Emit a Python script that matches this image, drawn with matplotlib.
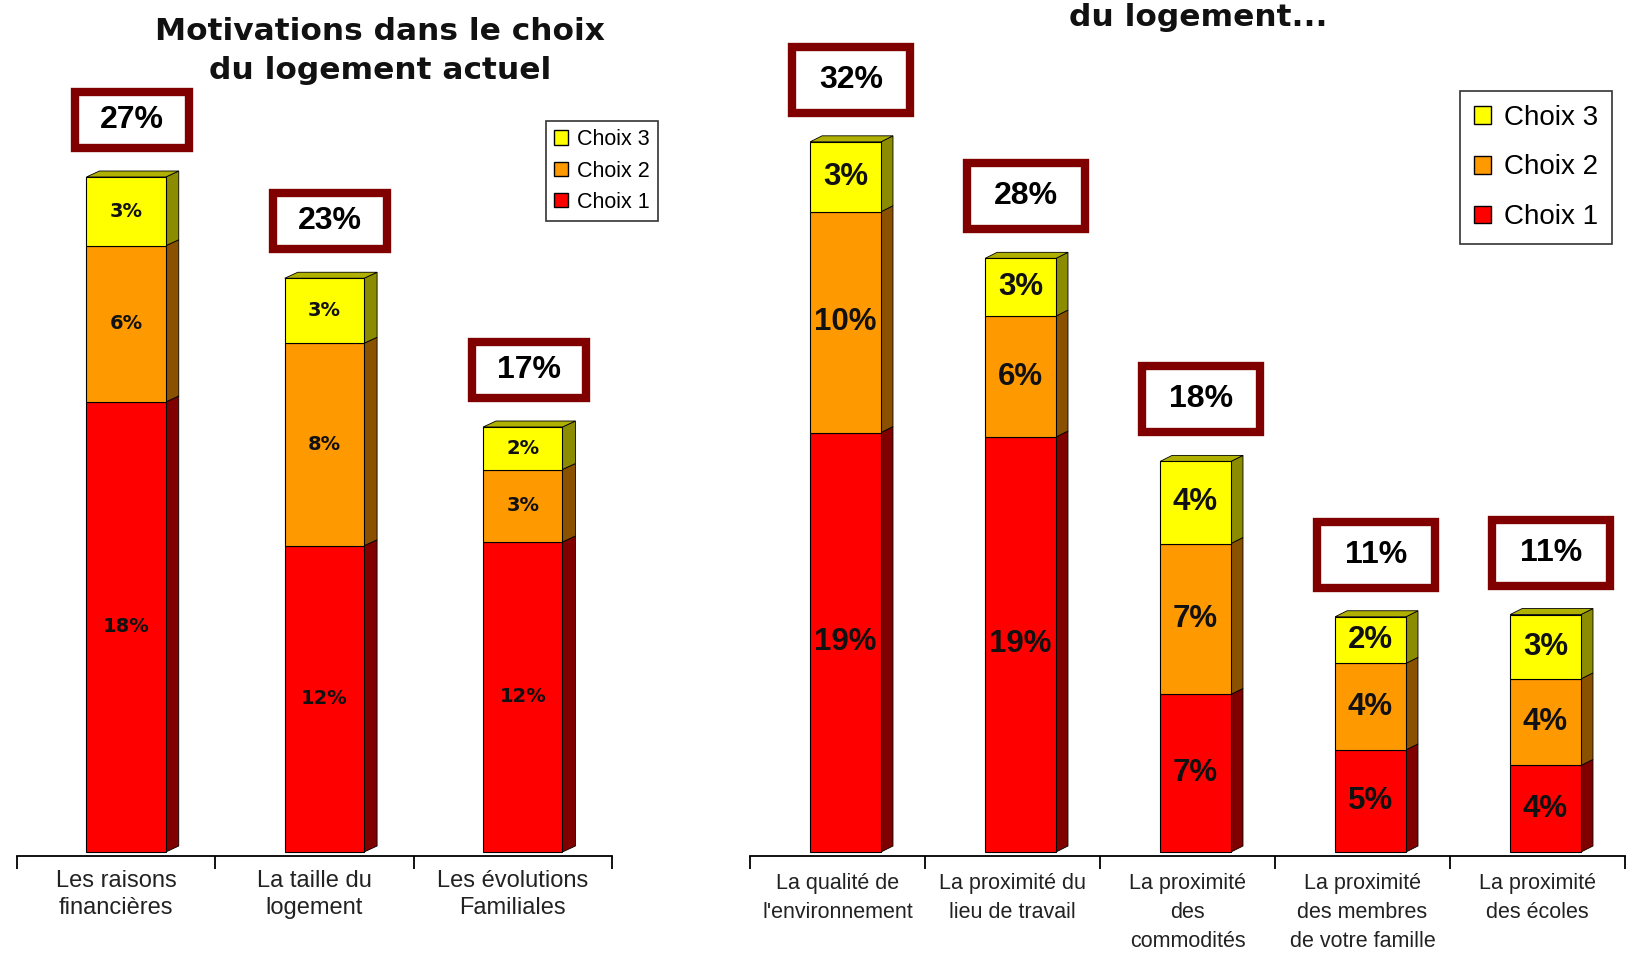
import matplotlib
matplotlib.use("Agg")
import matplotlib.pyplot as plt
from matplotlib.patches import Rectangle, Polygon, Patch

plt.rcParams['font.family'] = ['Liberation Sans', 'DejaVu Sans']

# ---- data ----
left_cats = ["Les raisons\nfinancières", "La taille du\nlogement", "Les évolutions\nFamiliales"]
left_c1 = [18.0, 12.25, 12.4]
left_c2 = [6.25, 8.1, 2.9]
left_c3 = [2.75, 2.6, 1.7]
left_lab1 = ["18%", "12%", "12%"]
left_lab2 = ["6%", "8%", "3%"]
left_lab3 = ["3%", "3%", "2%"]
left_tot = ["27%", "23%", "17%"]

right_cats = ["La qualité de\nl'environnement", "La proximité du\nlieu de travail",
              "La proximité\ndes\ncommodités", "La proximité\ndes membres\nde votre famille",
              "La proximité\ndes écoles"]
right_c1 = [18.9, 18.7, 7.1, 4.6, 3.9]
right_c2 = [9.95, 5.45, 6.8, 3.9, 3.9]
right_c3 = [3.15, 2.6, 3.7, 2.1, 2.9]
right_lab1 = ["19%", "19%", "7%", "5%", "4%"]
right_lab2 = ["10%", "6%", "7%", "4%", "4%"]
right_lab3 = ["3%", "3%", "4%", "2%", "3%"]
right_tot = ["32%", "28%", "18%", "11%", "11%"]

series = ["Choix 1", "Choix 2", "Choix 3"]
front = ["#FF0000", "#FF9900", "#FFFF00"]
side = ["#800000", "#8A5200", "#8C8C00"]
topc = "#B0B000"
box_col = "#800000"

W, H = 1633, 959
fig = plt.figure(figsize=(W / 100, H / 100), dpi=100)


def px_axes(x0, x1, ybot, ytop):
    return fig.add_axes([x0 / W, (H - ybot) / H, (x1 - x0) / W, (ybot - ytop) / H])


def px2data(ax, px, py):
    bb = ax.get_window_extent()
    xa, xb = ax.get_xlim()
    ya, yb = ax.get_ylim()
    return px * (xb - xa) / bb.width, py * (yb - ya) / bb.height


def draw_panel(ax, cats, stacks, labels, totals, bar_off, bar_w, dpx, seg_font,
               box_px, box_up, tot_fs, tick_fs, tick_pad, tick_ls):
    n = len(cats)
    ax.set_xlim(-0.5, n - 0.5)
    dx, dy = px2data(ax, dpx[0], dpx[1])
    bw, bh = px2data(ax, box_px[0], box_px[1])
    _, up = px2data(ax, 0, box_up)
    for i in range(n):
        x0 = i + bar_off - bar_w / 2
        x1 = x0 + bar_w
        base = 0.0
        for k in range(3):
            h = stacks[k][i]
            ax.add_patch(Rectangle((x0, base), bar_w, h, fc=front[k], ec="black", lw=0.8, zorder=3))
            ax.add_patch(Polygon([(x1, base), (x1 + dx, base + dy), (x1 + dx, base + h + dy), (x1, base + h)],
                                 closed=True, fc=side[k], ec="black", lw=0.6, zorder=2))
            ax.text((x0 + x1) / 2, base + h / 2, labels[k][i], ha="center", va="center",
                    fontsize=seg_font[0], family=seg_font[1], fontweight="bold",
                    color="#111111", zorder=4)
            base += h
        ax.add_patch(Polygon([(x0, base), (x0 + dx, base + dy), (x1 + dx, base + dy), (x1, base)],
                             closed=True, fc=topc, ec="black", lw=0.6, zorder=2))
        cx = (x0 + x1) / 2 + 0.03
        cy = base + up
        ax.add_patch(Rectangle((cx - bw / 2, cy - bh / 2), bw, bh, fc="white", ec=box_col,
                               lw=6, zorder=5, clip_on=False))
        ax.text(cx, cy, totals[i], ha="center", va="center", fontsize=tot_fs,
                fontweight="bold", zorder=6)
    for s in ["top", "left", "right"]:
        ax.spines[s].set_visible(False)
    ax.spines["bottom"].set_linewidth(1.3)
    ax.set_yticks([])
    ax.set_xticks(range(n))
    ax.set_xticklabels(cats, fontsize=tick_fs, linespacing=tick_ls, color="#222222")
    ax.tick_params(axis="x", which="major", length=0, pad=tick_pad)
    ax.set_xticks([i - 0.5 for i in range(n + 1)], minor=True)
    ax.tick_params(axis="x", which="minor", length=9, width=1.3, direction="out")
    ax.patch.set_alpha(0)


# left panel
axl = px_axes(17, 612, 856, 2)
axl.set_ylim(-0.16, 34.0)
draw_panel(axl, left_cats, [left_c1, left_c2, left_c3], [left_lab1, left_lab2, left_lab3],
           left_tot, 0.05, 0.40, (13, 6), (14, "DejaVu Sans"), (114, 56), 57, 23, 17, 10, 1.3)

# right panel
axr = px_axes(750, 1625, 856, 2)
axr.set_ylim(-0.18, 38.3)
draw_panel(axr, right_cats, [right_c1, right_c2, right_c3], [right_lab1, right_lab2, right_lab3],
           right_tot, 0.046, 0.405, (12, 6), (22.5, "Liberation Sans"), (118, 66), 62, 23,
           15.5, 12, 1.52)

fig.text(380 / W, 1 - 51 / H, "Motivations dans le choix\ndu logement actuel", ha="center",
         va="center", fontsize=22.5, fontweight="bold", family=["DejaVu Sans"], linespacing=1.45,
         color="#111111")
fig.text(1198 / W, 1 - 18 / H, "du logement...", ha="center", va="center", fontsize=22.5,
         fontweight="bold", family=["DejaVu Sans"], color="#111111")

handles = [Patch(fc=front[k], ec="black", lw=1) for k in (2, 1, 0)]
names = [series[k] for k in (2, 1, 0)]
leg1 = fig.legend(handles, names, loc="upper left", bbox_to_anchor=(546 / W, 1 - 121 / H),
                  bbox_transform=fig.transFigure, borderaxespad=0, fontsize=15.5, frameon=True,
                  fancybox=False, edgecolor="black", handlelength=0.65, handleheight=0.65,
                  handletextpad=0.4, labelspacing=0.48, borderpad=0.38)
leg1.get_frame().set_linewidth(1.2)
leg2 = fig.legend(handles, names, loc="upper left", bbox_to_anchor=(1460 / W, 1 - 91 / H),
                  bbox_transform=fig.transFigure, borderaxespad=0, fontsize=20, frameon=True,
                  fancybox=False, edgecolor="black", handlelength=0.6, handleheight=0.6,
                  handletextpad=0.5, labelspacing=0.85, borderpad=0.5)
leg2.get_frame().set_linewidth(1.2)

fig.savefig("out.png", dpi=100)
